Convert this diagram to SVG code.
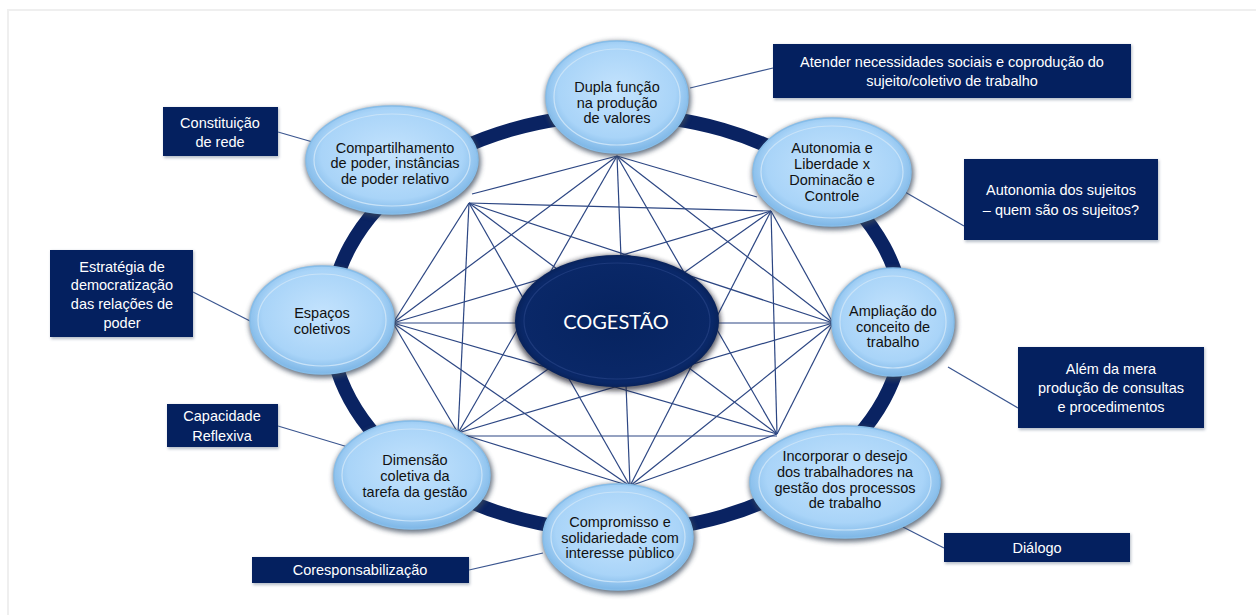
<svg xmlns="http://www.w3.org/2000/svg" width="1256" height="615" viewBox="0 0 1256 615">
<defs>
  <radialGradient id="gNode" cx="50%" cy="45%" r="55%">
    <stop offset="0" stop-color="#c4e3fd"/>
    <stop offset="0.75" stop-color="#a9d4f8"/>
    <stop offset="1" stop-color="#7db6e6"/>
  </radialGradient>
  <radialGradient id="gCore" cx="50%" cy="50%" r="55%">
    <stop offset="0" stop-color="#06235f"/>
    <stop offset="0.85" stop-color="#0a2868"/>
    <stop offset="1" stop-color="#051a48"/>
  </radialGradient>
  <filter id="shadow" x="-20%" y="-20%" width="140%" height="140%">
    <feGaussianBlur stdDeviation="2.5"/>
  </filter>
  <filter id="boxShadow" x="-10%" y="-20%" width="130%" height="150%">
    <feGaussianBlur stdDeviation="1.5"/>
  </filter>
  <style>
    .ring{fill:none;stroke:#0a2362;stroke-width:14}
    .web{stroke:#2c4683;stroke-width:1.2;fill:none}
    .call{stroke:#3a558f;stroke-width:1.2;fill:none}
    .sh{fill:#3a4a5c;opacity:0.75;filter:url(#shadow)}
    .node{fill:url(#gNode);stroke:#86bde9;stroke-width:1.5}
    .inner{fill:none;stroke:#c9e3f8;stroke-width:1.2}
    .nt{font-family:"Liberation Sans",Arial,sans-serif;font-size:14.5px;fill:#111;text-anchor:middle}
    .box{fill:#04205f}
    .bsh{fill:#6b7a90;opacity:0.5;filter:url(#boxShadow)}
    .bt{font-family:"Liberation Sans",Arial,sans-serif;font-size:14.5px;fill:#ffffff;text-anchor:middle}
  </style>
</defs>
<rect x="0" y="0" width="1256" height="615" fill="#ffffff"/>
<rect x="8" y="10" width="1262" height="620" fill="#ffffff" stroke="#efefef" stroke-width="2"/>

<g id="ring">
  <ellipse class="ring" cx="617" cy="323" rx="287" ry="208"/>
</g>

<g id="connectors">
  <line class="web" x1="617" y1="156" x2="757" y2="197"/>
  <line class="web" x1="617" y1="156" x2="833" y2="323"/>
  <line class="web" x1="617" y1="156" x2="777" y2="434"/>
  <line class="web" x1="617" y1="156" x2="630" y2="486"/>
  <line class="web" x1="617" y1="156" x2="458" y2="433"/>
  <line class="web" x1="617" y1="156" x2="393" y2="323"/>
  <line class="web" x1="617" y1="156" x2="472" y2="194"/>
  <line class="web" x1="771" y1="211" x2="833" y2="323"/>
  <line class="web" x1="771" y1="211" x2="777" y2="434"/>
  <line class="web" x1="771" y1="211" x2="630" y2="486"/>
  <line class="web" x1="771" y1="211" x2="458" y2="433"/>
  <line class="web" x1="771" y1="211" x2="393" y2="323"/>
  <line class="web" x1="771" y1="211" x2="469" y2="203"/>
  <line class="web" x1="833" y1="323" x2="777" y2="434"/>
  <line class="web" x1="833" y1="323" x2="630" y2="486"/>
  <line class="web" x1="833" y1="323" x2="458" y2="433"/>
  <line class="web" x1="833" y1="323" x2="393" y2="323"/>
  <line class="web" x1="833" y1="323" x2="469" y2="203"/>
  <line class="web" x1="777" y1="434" x2="630" y2="486"/>
  <line class="web" x1="777" y1="436" x2="458" y2="436"/>
  <line class="web" x1="777" y1="434" x2="393" y2="323"/>
  <line class="web" x1="777" y1="434" x2="469" y2="203"/>
  <line class="web" x1="630" y1="486" x2="458" y2="433"/>
  <line class="web" x1="630" y1="486" x2="393" y2="323"/>
  <line class="web" x1="630" y1="486" x2="469" y2="203"/>
  <line class="web" x1="458" y1="433" x2="393" y2="323"/>
  <line class="web" x1="458" y1="433" x2="469" y2="203"/>
  <line class="web" x1="393" y1="323" x2="469" y2="203"/>

  <line class="call" x1="690" y1="88" x2="773" y2="68"/>
  <line class="call" x1="278" y1="132" x2="330" y2="147"/>
  <line class="call" x1="905" y1="192" x2="964" y2="226"/>
  <line class="call" x1="193" y1="292" x2="252" y2="322"/>
  <line class="call" x1="948" y1="367" x2="1018" y2="408"/>
  <line class="call" x1="278" y1="426" x2="348" y2="447"/>
  <line class="call" x1="903" y1="527" x2="944" y2="548"/>
  <line class="call" x1="469" y1="570" x2="543" y2="553"/>
</g>

<g id="center">
  <ellipse cx="617" cy="323" rx="104" ry="68" fill="#1a1a2a" opacity="0.7" filter="url(#shadow)"/>
  <ellipse cx="617" cy="321" rx="102" ry="66" fill="url(#gCore)"/>
  <ellipse cx="617" cy="321" rx="93" ry="58" fill="none" stroke="#1d3a7c" stroke-width="1.2"/>
  <text x="616" y="329" font-family="Lato,'Open Sans',sans-serif" font-size="20" fill="#ffffff" text-anchor="middle">COGESTÃO</text>
</g>

<g id="n-dupla">
  <ellipse class="sh" cx="618" cy="99" rx="73" ry="58"/>
  <ellipse class="node" cx="617" cy="97" rx="71" ry="56"/>
  <ellipse class="inner" cx="617" cy="97" rx="63" ry="48"/>
  <text class="nt" x="617" y="92">Dupla função</text>
  <text class="nt" x="617" y="108">na produção</text>
  <text class="nt" x="617" y="123">de valores</text>
</g>

<g id="n-autonomia">
  <ellipse class="sh" cx="833" cy="174" rx="81" ry="56"/>
  <ellipse class="node" cx="832" cy="172" rx="79" ry="54"/>
  <ellipse class="inner" cx="832" cy="172" rx="71" ry="46"/>
  <text class="nt" x="832" y="153">Autonomia e</text>
  <text class="nt" x="832" y="169">Liberdade x</text>
  <text class="nt" x="832" y="185">Dominacão e</text>
  <text class="nt" x="832" y="201">Controle</text>
</g>

<g id="n-ampliacao">
  <ellipse class="sh" cx="894" cy="324" rx="63" ry="56"/>
  <ellipse class="node" cx="893" cy="322" rx="61" ry="54"/>
  <ellipse class="inner" cx="893" cy="322" rx="53" ry="46"/>
  <text class="nt" x="893" y="316">Ampliação do</text>
  <text class="nt" x="893" y="332">conceito de</text>
  <text class="nt" x="893" y="347">trabalho</text>
</g>

<g id="n-incorporar">
  <ellipse class="sh" cx="846" cy="484" rx="97" ry="58"/>
  <ellipse class="node" cx="845" cy="482" rx="95" ry="56"/>
  <ellipse class="inner" cx="845" cy="482" rx="86" ry="48"/>
  <text class="nt" x="845" y="461">Incorporar o desejo</text>
  <text class="nt" x="845" y="477">dos trabalhadores na</text>
  <text class="nt" x="845" y="493">gestão dos processos</text>
  <text class="nt" x="845" y="508">de trabalho</text>
</g>

<g id="n-compromisso">
  <ellipse class="sh" cx="619" cy="539" rx="77" ry="55"/>
  <ellipse class="node" cx="618" cy="537" rx="75" ry="53"/>
  <ellipse class="inner" cx="618" cy="537" rx="67" ry="45"/>
  <text class="nt" x="620" y="527">Compromisso e</text>
  <text class="nt" x="620" y="543">solidariedade com</text>
  <text class="nt" x="620" y="558">interesse pùblico</text>
</g>

<g id="n-dimensao">
  <ellipse class="sh" cx="413" cy="477" rx="80" ry="56"/>
  <ellipse class="node" cx="412" cy="475" rx="78" ry="54"/>
  <ellipse class="inner" cx="412" cy="475" rx="70" ry="46"/>
  <text class="nt" x="415" y="465">Dimensão</text>
  <text class="nt" x="415" y="481">coletiva da</text>
  <text class="nt" x="415" y="497">tarefa da gestão</text>
</g>

<g id="n-espacos">
  <ellipse class="sh" cx="323" cy="322" rx="74" ry="56"/>
  <ellipse class="node" cx="322" cy="320" rx="72" ry="54"/>
  <ellipse class="inner" cx="322" cy="320" rx="64" ry="46"/>
  <text class="nt" x="322" y="318">Espaços</text>
  <text class="nt" x="322" y="334">coletivos</text>
</g>

<g id="n-compartilhamento">
  <ellipse class="sh" cx="393" cy="162" rx="88" ry="56"/>
  <ellipse class="node" cx="392" cy="160" rx="86" ry="54"/>
  <ellipse class="inner" cx="392" cy="160" rx="78" ry="46"/>
  <text class="nt" x="395" y="153">Compartilhamento</text>
  <text class="nt" x="395" y="168">de poder, instâncias</text>
  <text class="nt" x="395" y="184">de poder relativo</text>
</g>

<g id="b-atender">
  <rect class="bsh" x="774" y="45" width="358" height="55"/>
  <rect class="box" x="773" y="44" width="358" height="54"/>
  <text class="bt" x="952" y="67">Atender necessidades sociais e coprodução do</text>
  <text class="bt" x="952" y="86">sujeito/coletivo de trabalho</text>
</g>

<g id="b-constituicao">
  <rect class="bsh" x="164" y="108" width="115" height="50"/>
  <rect class="box" x="163" y="107" width="115" height="49"/>
  <text class="bt" x="220" y="128">Constituição</text>
  <text class="bt" x="220" y="147">de rede</text>
</g>

<g id="b-autonomia">
  <rect class="bsh" x="965" y="160" width="194" height="82"/>
  <rect class="box" x="964" y="159" width="194" height="81"/>
  <text class="bt" x="1061" y="195">Autonomia dos sujeitos</text>
  <text class="bt" x="1061" y="215">– quem são os sujeitos?</text>
</g>

<g id="b-estrategia">
  <rect class="bsh" x="51" y="251" width="143" height="88"/>
  <rect class="box" x="50" y="250" width="143" height="87"/>
  <text class="bt" x="122" y="272">Estratégia de</text>
  <text class="bt" x="122" y="290">democratização</text>
  <text class="bt" x="122" y="309">das relações de</text>
  <text class="bt" x="122" y="328">poder</text>
</g>

<g id="b-alem">
  <rect class="bsh" x="1019" y="348" width="186" height="82"/>
  <rect class="box" x="1018" y="347" width="186" height="81"/>
  <text class="bt" x="1111" y="374">Além da mera</text>
  <text class="bt" x="1111" y="393">produção de consultas</text>
  <text class="bt" x="1111" y="412">e procedimentos</text>
</g>

<g id="b-capacidade">
  <rect class="bsh" x="168" y="405" width="111" height="44"/>
  <rect class="box" x="167" y="404" width="111" height="43"/>
  <text class="bt" x="222" y="421">Capacidade</text>
  <text class="bt" x="222" y="441">Reflexiva</text>
</g>

<g id="b-dialogo">
  <rect class="bsh" x="945" y="534" width="186" height="30"/>
  <rect class="box" x="944" y="533" width="186" height="29"/>
  <text class="bt" x="1037" y="553">Diálogo</text>
</g>

<g id="b-coresp">
  <rect class="bsh" x="253" y="558" width="217" height="27"/>
  <rect class="box" x="252" y="557" width="217" height="26"/>
  <text class="bt" x="360" y="575">Coresponsabilização</text>
</g>
</svg>
